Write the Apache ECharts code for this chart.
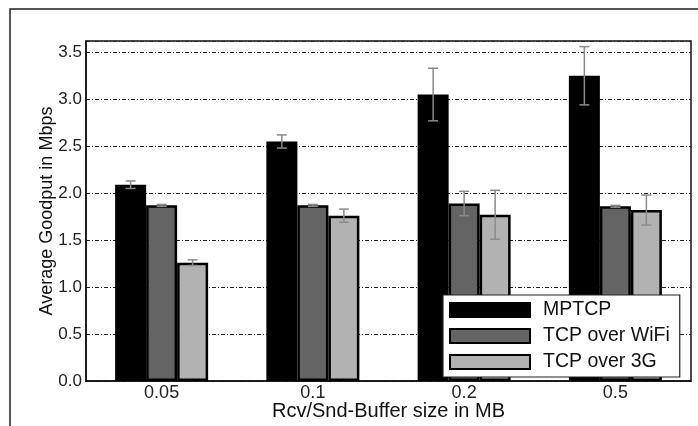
<!DOCTYPE html>
<html>
<head>
<meta charset="utf-8">
<script src="https://cdn.jsdelivr.net/npm/echarts@6/dist/echarts.min.js"></script>
<style>
  html, body { margin: 0; padding: 0; background: #fff; }
  #chart { width: 698px; height: 426px; }
</style>
</head>
<body>
<div id="chart"></div>
<script>
// buffer sizes (MB)
const categories = ["0.05", "0.1", "0.2", "0.5"];
const seriesNames = ["MPTCP", "TCP over WiFi", "TCP over 3G"];

// average goodput, Mbps
const mptcp = [2.09, 2.55, 3.05, 3.25];
const wifi = [1.87, 1.87, 1.89, 1.86];
const g3 = [1.26, 1.76, 1.77, 1.82];

// error half-ranges
const mptcpErr = [0.04, 0.07, 0.28, 0.31];
const wifiErr = [0.01, 0.01, 0.13, 0.01];
const g3Err = [0.03, 0.07, 0.26, 0.16];

const yTicks = [0, 0.5, 1, 1.5, 2, 2.5, 3, 3.5];

const values = [mptcp, wifi, g3];
const errs = [mptcpErr, wifiErr, g3Err];
const colors = ["#000000", "#646464", "#b2b2b2"];
const BAR_W = 31;
const font = "'Liberation Sans', Arial, sans-serif";

const chart = echarts.init(document.getElementById("chart"), null, { renderer: "canvas" });

function errSeries(idx) {
  const data = categories.map((c, i) => [i, values[idx][i] - errs[idx][i], values[idx][i] + errs[idx][i]]);
  return {
    type: "custom",
    name: seriesNames[idx] + " err",
    z: 5,
    silent: true,
    data,
    renderItem(params, api) {
      const lo = api.coord([api.value(0), api.value(1)]);
      const hi = api.coord([api.value(0), api.value(2)]);
      const x = lo[0] + (idx - 1) * BAR_W;
      const cap = 5;
      const style = { stroke: "#8a8a8a", lineWidth: 1.5 };
      return {
        type: "group",
        children: [
          { type: "line", shape: { x1: x, y1: lo[1], x2: x, y2: hi[1] }, style },
          { type: "line", shape: { x1: x - cap, y1: lo[1], x2: x + cap, y2: lo[1] }, style },
          { type: "line", shape: { x1: x - cap, y1: hi[1], x2: x + cap, y2: hi[1] }, style }
        ]
      };
    }
  };
}

const option = {
  animation: false,
  backgroundColor: "#fff",
  textStyle: { fontFamily: font },
  graphic: [
    {
      type: "rect",
      shape: { x: 10, y: 9, width: 900, height: 900 },
      style: { fill: "none", stroke: "#222", lineWidth: 1.5 },
      silent: true
    }
  ],
  grid: {
    left: 86, top: 41, right: 7, bottom: 45,
    outerBoundsMode: "none",
    containLabel: false,
    show: true, borderColor: "#111", borderWidth: 1.5, backgroundColor: "transparent"
  },
  legend: {
    data: seriesNames,
    orient: "vertical",
    left: 443,
    top: 295,
    itemWidth: 80,
    itemHeight: 14,
    itemGap: 6,
    padding: [5, 10, 5, 6],
    backgroundColor: "#fff",
    borderColor: "#222",
    borderWidth: 1.2,
    borderRadius: 0,
    icon: "rect",
    textStyle: { fontSize: 19.5, color: "#111", fontFamily: font, lineHeight: 20, padding: [0, 0, 0, 8] }
  },
  xAxis: [
    {
      type: "category",
      data: categories,
      name: "Rcv/Snd-Buffer size in MB",
      nameLocation: "middle",
      nameGap: 20,
      nameMoveOverlap: false,
      nameTextStyle: { fontSize: 20, color: "#111" },
      axisLine: { lineStyle: { color: "#111", width: 1.5 } },
      axisTick: { show: false },
      axisLabel: { fontSize: 18, color: "#222", margin: 3 }
    },
    {
      type: "category",
      data: categories,
      position: "top",
      axisLine: { show: false },
      axisTick: { inside: true, alignWithLabel: true, length: 5, lineStyle: { color: "#111", width: 1.5 } },
      axisLabel: { show: false }
    }
  ],
  yAxis: {
    type: "value",
    min: 0,
    max: 3.62,
    interval: 0.5,
    name: "Average Goodput in Mbps",
    nameLocation: "middle",
    nameGap: 30,
    nameMoveOverlap: false,
    nameTextStyle: { fontSize: 18, color: "#111" },
    axisLine: { show: true, lineStyle: { color: "#111", width: 1.5 } },
    axisTick: { show: false },
    axisLabel: {
      fontSize: 17,
      color: "#222",
      margin: 4,
      showMaxLabel: false,
      formatter: (v) => (yTicks.some((t) => Math.abs(t - v) < 1e-6) ? v.toFixed(1) : "")
    },
    splitLine: { lineStyle: { color: "#222", width: 1, type: [4, 2, 1, 2] } }
  },
  series: [
    ...values.map((vals, idx) => ({
      type: "bar",
      name: seriesNames[idx],
      data: vals,
      barWidth: BAR_W,
      barGap: "0%",
      itemStyle: { color: colors[idx], borderColor: "#000", borderWidth: 2.5 }
    })),
    errSeries(0),
    errSeries(1),
    errSeries(2)
  ]
};

chart.setOption(option);
</script>
</body>
</html>
